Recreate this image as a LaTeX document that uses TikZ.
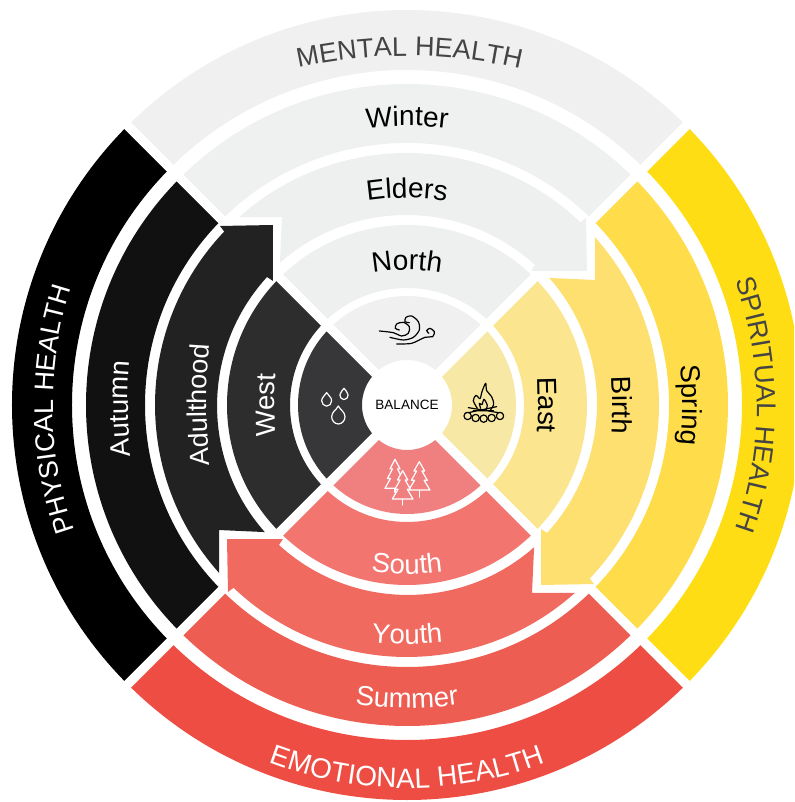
\documentclass[tikz,border=0pt]{standalone}
\usepackage{fontspec}
\setmainfont{Liberation Sans}
\usetikzlibrary{decorations.text}
\definecolor{north0}{HTML}{F0F0F0}
\definecolor{north1}{HTML}{EFF0F0}
\definecolor{north2}{HTML}{EEF0F0}
\definecolor{north3}{HTML}{EEF0F0}
\definecolor{north4}{HTML}{F0F0F0}
\definecolor{east0}{HTML}{FFDD15}
\definecolor{east1}{HTML}{FFDD4A}
\definecolor{east2}{HTML}{FDE06F}
\definecolor{east3}{HTML}{FBE68F}
\definecolor{east4}{HTML}{F8E8A6}
\definecolor{south0}{HTML}{EE4D43}
\definecolor{south1}{HTML}{ED5D51}
\definecolor{south2}{HTML}{F06A60}
\definecolor{south3}{HTML}{F27570}
\definecolor{south4}{HTML}{F08080}
\definecolor{west0}{HTML}{000000}
\definecolor{west1}{HTML}{111111}
\definecolor{west2}{HTML}{222222}
\definecolor{west3}{HTML}{2D2D2E}
\definecolor{west4}{HTML}{37373A}
\definecolor{labelgray}{HTML}{444444}
\tikzset{
    gapline/.style={white,line width=9.5pt},
    iconline/.style={line width=1.2pt,line cap=round,line join=round},
    ringlabel/.style n args={3}{decorate,decoration={text along path,text={|\fontsize{#3}{#3}\selectfont\color{#2}|#1},text align=center}}
}
\begin{document}
\begin{tikzpicture}[x=1pt,y=1pt]
\path[use as bounding box,clip] (-407,-397) rectangle (387,405);
% plain rings
\foreach \a/\q in {135/north,45/east,-45/south,-135/west}{
\foreach \ri/\ro/\k in {335/395/0,262/321/1,117/180/3,45/109/4}{
\fill[\q\k] (\a:\ro) arc[start angle=\a,end angle=\a-90,radius=\ro] -- (\a-90:\ri) arc[start angle=\a-90,end angle=\a,radius=\ri] -- cycle;
}
}
\foreach \a in {45,135,225,315}{
\draw[gapline] (\a:40) -- (\a:405);
}
% stage ring, each piece runs over the next quadrant
\foreach \rot/\q in {0/north,-90/east,-180/south,-270/west}{
\fill[\q2,rotate=\rot] (131.8:252) arc[start angle=131.8,end angle=46.5,radius=252] -- (179,187) -- (180,134) -- (124,134) -- (128,140) arc[start angle=47.6,end angle=131.4,radius=191] -- (-125,188) -- cycle;
}
% labels: text, colour, radius at the middle, radius of the bend, size
\foreach \rot/\t/\c/\r/\R/\f in {
-0.4/MENTAL HEALTH/labelgray/349/500/27,0/Winter/black/279/330/28,0/Elders/black/207/260/28,0/North/black/135/190/28,
-90/SPIRITUAL HEALTH/labelgray/350/360/27,-90/Spring/black/275/400/27.5,-90/Birth/black/205/600/27.5,-90/East/black/131/800/27.5,
90.7/PHYSICAL HEALTH/white/354/380/27,90.8/Autumn/white/279/500/27.5,90/Adulthood/white/200/800/27,90/West/white/132/1000/27.5}{
\path[ringlabel={\t}{\c}{\f},rotate=\rot,shift={(0,\r-\R)}] (90+60:\R) arc[start angle=150,end angle=30,radius=\R];
}
\foreach \t/\c/\r/\R/\f in {EMOTIONAL HEALTH/white/383/390/28,Summer/white/303/380/27.5,Youth/white/239/300/27.5,South/white/169/250/27.5}{
\path[ringlabel={\t}{\c}{\f},shift={(0,\R-\r)}] (210:\R) arc[start angle=210,end angle=330,radius=\R];
}
\node[font=\fontsize{13.5}{13.5}\selectfont] (balance) at (0,0) {BALANCE};
% icons, in a finer grid
\begin{scope}[shift={(-127pt,125pt)},x=0.3333pt,y=-0.3333pt]
% wind
\draw[iconline,black] plot[smooth] coordinates {(298,153) (340,158) (365,168) (385,160) (388,140) (370,127) (350,132) (346,145) (358,150)};
\draw[iconline,black] plot[smooth] coordinates {(330,172) (370,180) (400,172) (418,150) (415,125) (395,108) (378,112) (375,125) (388,128)};
\draw[iconline,black] plot[smooth] coordinates {(350,192) (395,190) (435,172) (458,170) (463,155) (450,145) (440,152) (447,160)};
% drops
\foreach \x/\y/\s in {140/338/15,192/325/12.5,175/378/20}{
\draw[iconline,white] (\x,\y) .. controls ({\x-.3*\s},{\y+.6*\s}) and ({\x-\s},{\y+.9*\s}) .. ({\x-\s},{\y+1.6*\s}) .. controls ({\x-\s},{\y+2.2*\s}) and ({\x-.55*\s},{\y+2.7*\s}) .. (\x,{\y+2.7*\s}) .. controls ({\x+.55*\s},{\y+2.7*\s}) and ({\x+\s},{\y+2.2*\s}) .. ({\x+\s},{\y+1.6*\s}) .. controls ({\x+\s},{\y+.9*\s}) and ({\x+.3*\s},{\y+.6*\s}) .. cycle;
}
% fire
\draw[iconline,black] plot[smooth] coordinates {(592,385) (580,362) (588,346) (600,356) (606,335) (617,310) (620,332) (635,350) (641,373) (630,392)};
\draw[iconline,black] plot[smooth] coordinates {(602,385) (598,370) (606,374) (612,358) (622,376) (618,390)};
\draw[iconline,black] (565,383) -- (667,400) (650,380) -- (556,400) (580,392) -- (640,392);
\foreach \x/\y in {563/408,587/414,611/416,635/414,660/408}{
\draw[iconline,black,fill=east4] (\x,\y) circle (11);
}
% trees
\foreach \x/\y/\w/\h/\t in {345/538/30/87/12,418/545/32/85/22,368/572/31/85/18}{
\draw[iconline,white] (\x,{\y+\h}) -- (\x,{\y+\h+\t});
\draw[iconline,white,fill=south4] (\x,\y) -- ({\x-.5*\w},{\y+.33*\h}) -- ({\x-.25*\w},{\y+.33*\h}) -- ({\x-.75*\w},{\y+.66*\h}) -- ({\x-.45*\w},{\y+.66*\h}) -- ({\x-\w},{\y+\h}) -- ({\x+\w},{\y+\h}) -- ({\x+.45*\w},{\y+.66*\h}) -- ({\x+.75*\w},{\y+.66*\h}) -- ({\x+.25*\w},{\y+.33*\h}) -- ({\x+.5*\w},{\y+.33*\h}) -- cycle;
}
\end{scope}
\end{tikzpicture}
\end{document}
